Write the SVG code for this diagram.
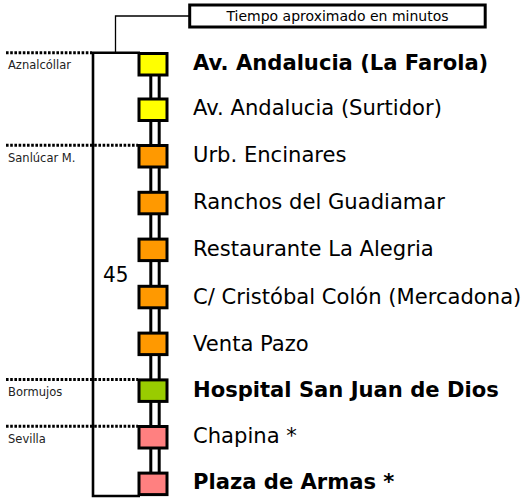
<svg xmlns="http://www.w3.org/2000/svg" width="523" height="501" viewBox="0 0 523 501">
<style>
.stop{stroke:#000;stroke-width:3}
.y{fill:#FFFF00}.o{fill:#FF9900}.g{fill:#99CC00}.p{fill:#FF8080}
.name{font-family:"DejaVu Sans",Verdana,sans-serif;font-size:21.1px;fill:#000}
.b{font-weight:bold}
.zone{font-family:"DejaVu Sans",Verdana,sans-serif;font-size:11.5px;fill:#222}
.dot{stroke:#000;stroke-width:3;stroke-dasharray:2.6 1.6;fill:none}
.line{stroke:#000;fill:none}
</style>
<rect width="523" height="501" fill="#fff"/>
<g id="zones">
<line class="dot" x1="6" y1="52.7" x2="92" y2="52.7"/>
<text class="zone" x="8" y="69">Aznalcóllar</text>
<line class="dot" x1="6" y1="145.3" x2="138" y2="145.3"/>
<text class="zone" x="8" y="161.7">Sanlúcar M.</text>
<line class="dot" x1="6" y1="379.6" x2="138" y2="379.6"/>
<text class="zone" x="8" y="396">Bormujos</text>
<line class="dot" x1="6" y1="426.2" x2="138" y2="426.2"/>
<text class="zone" x="8" y="442.7">Sevilla</text>
</g>
<g id="connectors">
<path class="line" d="M140 52.8 H93 V496 H140" stroke-width="2.6"/>
<path class="line" d="M115.5 52 V16 H189" stroke-width="1.3"/>
<line class="line" x1="150.8" y1="60" x2="150.8" y2="490" stroke-width="3"/>
<line class="line" x1="159.2" y1="60" x2="159.2" y2="490" stroke-width="3"/>
</g>
<g id="label">
<rect x="189.7" y="5" width="295.5" height="22" fill="#fff" stroke="#000" stroke-width="3"/>
<text x="337.5" y="21" text-anchor="middle" font-family="DejaVu Sans, Verdana, sans-serif" font-size="14">Tiempo aproximado en minutos</text>
</g>
<text id="time" x="103" y="282.3" font-family="DejaVu Sans, Verdana, sans-serif" font-size="21.5" textLength="25.5" lengthAdjust="spacingAndGlyphs">45</text>
<g id="stop1"><rect class="stop y" x="139" y="53.5" width="28" height="21.5"/><text class="name b" x="193" y="70">Av. Andalucia (La Farola)</text></g>
<g id="stop2"><rect class="stop y" x="139" y="99" width="28" height="21.5"/><text class="name" x="193" y="115">Av. Andalucia (Surtidor)</text></g>
<g id="stop3"><rect class="stop o" x="139" y="145.5" width="28" height="21.5"/><text class="name" x="193" y="162">Urb. Encinares</text></g>
<g id="stop4"><rect class="stop o" x="139" y="192.3" width="28" height="21.5"/><text class="name" x="193" y="208.5">Ranchos del Guadiamar</text></g>
<g id="stop5"><rect class="stop o" x="139" y="239.1" width="28" height="21.5"/><text class="name" x="193" y="255.5">Restaurante La Alegria</text></g>
<g id="stop6"><rect class="stop o" x="139" y="286.3" width="28" height="21.5"/><text class="name" x="193" y="304">C/ Cristóbal Colón (Mercadona)</text></g>
<g id="stop7"><rect class="stop o" x="139" y="333.1" width="28" height="21.5"/><text class="name" x="193" y="351">Venta Pazo</text></g>
<g id="stop8"><rect class="stop g" x="139" y="379.9" width="28" height="21.5"/><text class="name b" x="193" y="397">Hospital San Juan de Dios</text></g>
<g id="stop9"><rect class="stop p" x="139" y="426.5" width="28" height="21.5"/><text class="name" x="193" y="443">Chapina *</text></g>
<g id="stop10"><rect class="stop p" x="139" y="473.1" width="28" height="21.5"/><text class="name b" x="193" y="488.5">Plaza de Armas *</text></g>
</svg>
